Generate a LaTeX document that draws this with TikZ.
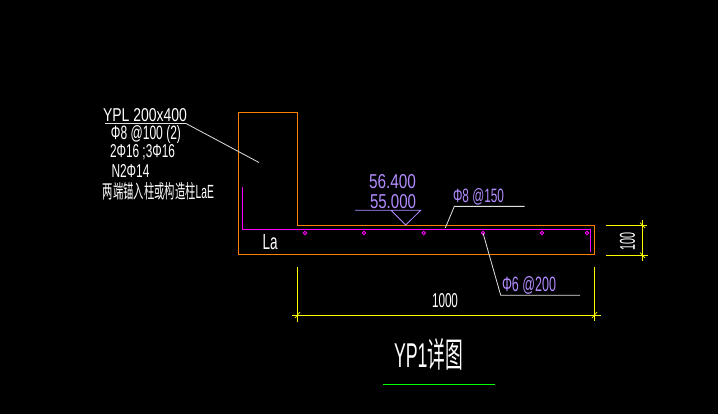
\documentclass[tikz,border=0pt]{standalone}
\usepackage{fontspec}
\setmainfont{Liberation Sans}
\newfontfamily\cjkfont{Noto Sans CJK SC}
\definecolor{cadorange}{RGB}{255,128,0}
\definecolor{cadmagenta}{RGB}{255,0,255}
\definecolor{cadpurple}{RGB}{178,140,255}
\definecolor{cadyellow}{RGB}{255,255,0}
\definecolor{cadgreen}{RGB}{0,255,0}
\definecolor{cadleader}{RGB}{225,225,225}
\newcommand{\fit}[3]{\resizebox{#1pt}{#2pt}{#3}}
\tikzset{
  x=1pt,y=-1pt,
  concrete/.style={draw=cadorange,line width=1pt},
  rebar/.style={draw=cadmagenta,line width=1pt},
  stirrup/.style={draw=cadmagenta,line width=.9pt,circle,inner sep=0pt,minimum size=3.4pt},
  leader/.style={draw=cadleader,line width=.8pt},
  elev/.style={draw=cadpurple,line width=.8pt},
  dimline/.style={draw=cadyellow,line width=.9pt},
  label/.style={inner sep=0pt,outer sep=0pt,text=white},
  plabel/.style={inner sep=0pt,outer sep=0pt,text=cadpurple},
}
\begin{document}
\begin{tikzpicture}
\fill[black] (0,0) rectangle (718,414);
\useasboundingbox (0,0) rectangle (718,414);
% concrete outline
\draw[concrete] (238.5,112.5) -- (297.5,112.5) -- (297.5,225.5) -- (594.5,225.5) -- (594.5,255) -- (238.5,255) -- cycle;
% rebar
\draw[rebar] (242.5,187.5) -- (242.5,229.5) -- (590,229.5) -- (590,251.7);
\foreach \n/\px in {a/305,b/364,c/423.7,d/483,e/542,f/587}
  \node[stirrup] (bar\n) at (\px,233) {};
% labels on the left
\node[label] (title1) at (145,115) {\fit{84}{13}{YPL 200x400}};
\node[label] (title2) at (146,135) {\fit{70}{14}{Φ8 @100 (2)}};
\node[label] (title3) at (142.5,152) {\fit{65}{13}{2Φ16 ;3Φ16}};
\node[label] (title4) at (130.5,171) {\fit{38}{13}{N2Φ14}};
\node[label] (title5) at (158.5,191) {\fit{111}{16}{\cjkfont 两端锚入柱或构造柱\rmfamily LaE}};
\node[label] (la) at (270,242.5) {\fit{15}{15}{La}};
% leaders
\coordinate (l1a) at (105,123.5);
\coordinate (l1b) at (186,123.5);
\coordinate (l1c) at (259,162.5);
\draw[leader] (l1a) -- (l1b) -- (l1c);
\coordinate (l2a) at (445.3,228);
\coordinate (l2b) at (454.3,206.4);
\coordinate (l2c) at (524.7,206.4);
\draw[leader] (l2a) -- (l2b) -- (l2c);
\coordinate (l3b) at (500.7,295.3);
\coordinate (l3c) at (580,295.3);
\draw[leader] (bard.center) -- (l3b) -- (l3c);
% elevation mark
\coordinate (e1) at (355,210.3);
\coordinate (e2) at (420.7,210.3);
\coordinate (e3) at (391,210.3);
\coordinate (e4) at (405.7,225);
\draw[elev] (e1) -- (e2) -- (e4) -- (e3);
\node[plabel] (h1) at (392.5,182) {\fit{47}{14}{56.400}};
\node[plabel] (h2) at (393,202) {\fit{46}{14}{55.000}};
\node[plabel] (r1) at (478.5,197) {\fit{51}{14}{Φ8 @150}};
\node[plabel] (r2) at (529,285.5) {\fit{54}{15}{Φ6 @200}};
% dimensions
\draw[dimline] (606,225.5) -- (647,225.5);
\draw[dimline] (606,255.3) -- (648,255.3);
\draw[dimline] (642.5,220) -- (642.5,261);
\draw[dimline,line width=.7pt] (640,222.5) -- (645,228);
\draw[dimline,line width=.7pt] (640,252.5) -- (645,258);
\node[label,rotate=90] (d100) at (627.5,241.5) {\fit{18}{15}{100}};
\draw[dimline] (292,315) -- (601,315);
\draw[dimline] (297.5,267) -- (297.5,322);
\draw[dimline] (594.5,267) -- (594.5,321);
\draw[dimline,line width=.7pt] (295,318) -- (300,312);
\draw[dimline,line width=.7pt] (592,318) -- (597,312);
\node[label] (d1000) at (445,301) {\fit{26}{14}{1000}};
% title
\node[label] (yp) at (428.5,354.5) {\fit{69}{29}{YP1\cjkfont 详图}};
\draw[draw=cadgreen,line width=1pt] (383,384.3) -- (495,384.3);
\end{tikzpicture}
\end{document}
